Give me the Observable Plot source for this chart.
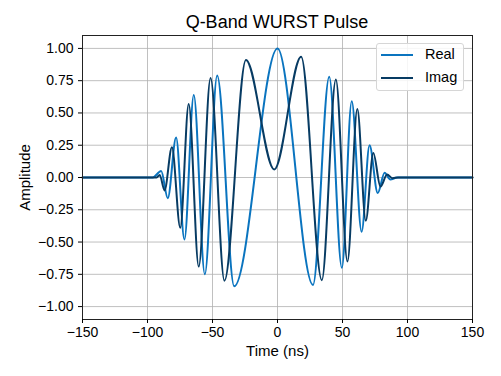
<!DOCTYPE html>
<html>
<head>
<meta charset="utf-8">
<script src="https://cdn.jsdelivr.net/npm/d3@7"></script>
<script src="https://cdn.jsdelivr.net/npm/@observablehq/plot@0.6"></script>
<style>
  html, body { margin: 0; padding: 0; background: #fff; }
  #wrap { position: relative; width: 501px; height: 376px; font-family: "Liberation Sans", Arial, sans-serif; }
  #title { position: absolute; left: 0; width: 554px; top: 12px; text-align: center; font-size: 18px; color: #000; }
  #legend { position: absolute; left: 376px; top: 43px; width: 86px; height: 46px; border: 1px solid #d6d6d6; border-radius: 3px; background: rgba(255,255,255,0.85); }
  #legend .row { position: absolute; left: 0; height: 20px; font-size: 14.5px; color: #000; }
  #legend .sw { position: absolute; left: 4px; top: 9px; width: 32px; height: 0; border-top: 2px solid; }
  #legend .lab { position: absolute; left: 48px; top: 1px; }
</style>
</head>
<body>
<div id="wrap">
  <div id="title">Q-Band WURST Pulse</div>
</div>
<script>
// Extrema / flat points (time in ns, amplitude)
const realTime = [-150, -96, -89.5, -84.4, -78, -71.6, -64.4, -55.9, -46.4, -33.3, 0, 27.3, 39.8, 49.5, 57.1, 64.7, 70.8, 77.1, 82.4, 86.8, 92, 150];
const realAmp  = [0, 0, 0.05, -0.16, 0.31, -0.48, 0.64, -0.75, 0.79, -0.843, 1.0, -0.832, 0.78, -0.70, 0.59, -0.42, 0.25, -0.12, 0.036, -0.015, 0, 0];

const imagTime = [-150, -93, -90.6, -86.9, -81.2, -74.8, -68.3, -60.6, -51.5, -40.8, -24.3, -2.5, 18.2, 34.1, 44.9, 53.8, 61.4, 67.9, 73.7, 79.2, 84.3, 88.5, 93, 150];
const imagAmp  = [0, 0, 0.02, -0.10, 0.235, -0.39, 0.57, -0.69, 0.77, -0.80, 0.91, 0.062, 0.935, -0.795, 0.76, -0.65, 0.53, -0.335, 0.19, -0.07, 0.023, -0.005, 0, 0];

const xTicks = [-150, -100, -50, 0, 50, 100, 150];
const yTicks = [-1.00, -0.75, -0.50, -0.25, 0.00, 0.25, 0.50, 0.75, 1.00];

const seriesNames = ["Real", "Imag"];
const seriesColors = ["#0a74bf", "#073b63"];

const realData = realTime.map((t, i) => ({t, v: realAmp[i]}));
const imagData = imagTime.map((t, i) => ({t, v: imagAmp[i]}));

const fmtY = d => d3.format(".2f")(d).replace("-", "\u2212");
const fmtX = d => String(d).replace("-", "\u2212");

const chart = Plot.plot({
  width: 501,
  height: 376,
  marginLeft: 82,
  marginRight: 29,
  marginTop: 35,
  marginBottom: 57,
  style: { fontFamily: "Liberation Sans, Arial, sans-serif", fontSize: "14px", color: "#000", background: "transparent" },
  x: { domain: [-150, 150] },
  y: { domain: [-1.1, 1.1] },
  marks: [
    Plot.gridX(xTicks, { stroke: "#b0b0b0", strokeOpacity: 1, strokeWidth: 0.8 }),
    Plot.gridY(yTicks, { stroke: "#b0b0b0", strokeOpacity: 1, strokeWidth: 0.8 }),
    Plot.line(realData, { x: "t", y: "v", stroke: seriesColors[0], strokeWidth: 2, curve: "monotone-x" }),
    Plot.line(imagData, { x: "t", y: "v", stroke: seriesColors[1], strokeWidth: 2, curve: "monotone-x" }),
    Plot.frame({ stroke: "#222", strokeWidth: 1 }),
    Plot.axisX(xTicks, { tickSize: 4, tickPadding: 4, tickFormat: fmtX, label: "Time (ns)", labelAnchor: "center", labelArrow: "none", labelOffset: 36, fontSize: 14 }),
    Plot.axisY(yTicks, { tickSize: 4, tickPadding: 5, tickFormat: fmtY, label: "Amplitude", labelAnchor: "center", labelArrow: "none", labelOffset: 63, fontSize: 14 })
  ]
});
const wrap = document.getElementById("wrap");
wrap.insertBefore(chart, wrap.firstChild);
chart.querySelectorAll("g[aria-label='x-axis label'] text, g[aria-label='y-axis label'] text").forEach(t => t.setAttribute("font-size", "15"));

const legend = document.createElement("div");
legend.id = "legend";
seriesNames.forEach((name, i) => {
  const row = document.createElement("div");
  row.className = "row";
  row.style.top = (i === 0 ? 1 : 24) + "px";
  row.style.width = "86px";
  const sw = document.createElement("div");
  sw.className = "sw";
  sw.style.borderTopColor = seriesColors[i];
  const lab = document.createElement("div");
  lab.className = "lab";
  lab.textContent = name;
  row.appendChild(sw); row.appendChild(lab);
  legend.appendChild(row);
});
wrap.appendChild(legend);
</script>
</body>
</html>
